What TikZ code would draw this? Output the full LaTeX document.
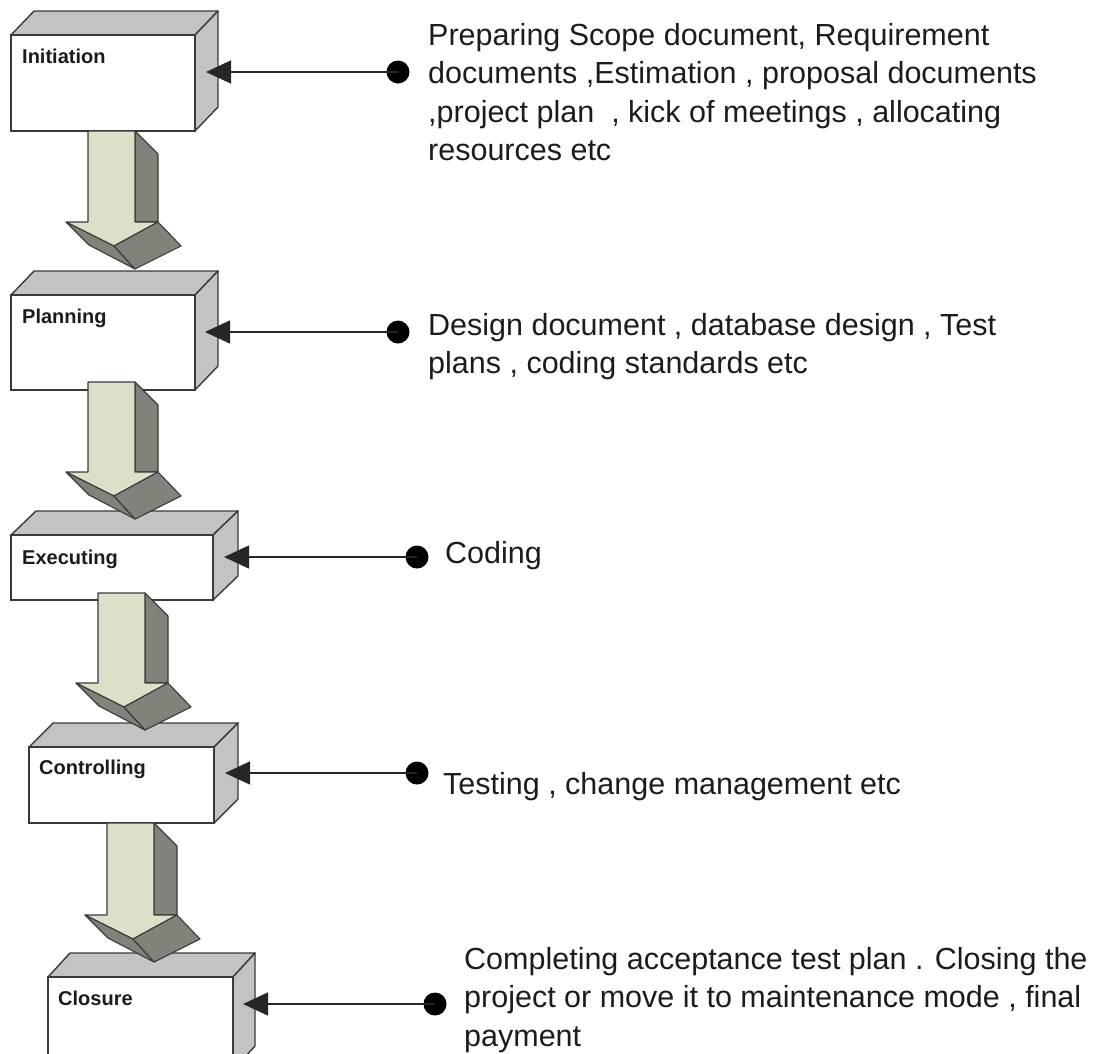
\documentclass[tikz,border=0pt]{standalone}
\usepackage{fontspec}
\setmainfont{Liberation Sans}
\usetikzlibrary{arrows.meta}
\definecolor{facegray}{HTML}{C3C3C3}
\definecolor{edgegray}{HTML}{3A3A3A}
\definecolor{arrowlight}{HTML}{DDE0C9}
\definecolor{arrowdark}{HTML}{80837A}
\definecolor{txtcol}{HTML}{1C1C1C}
\tikzset{
  boxface/.style={fill=facegray, draw=edgegray, line width=1.4pt, line join=round},
  boxfront/.style={fill=white, draw=edgegray, line width=1.4pt},
  arrlight/.style={fill=arrowlight, draw=edgegray, line width=1.1pt, line join=round},
  arrdark/.style={fill=arrowdark, draw=edgegray, line width=1.1pt, line join=round},
  phaselabel/.style={anchor=base west, inner sep=0pt, font=\fontsize{20}{24}\selectfont\bfseries, text=txtcol},
  note/.style={anchor=base west, inner sep=0pt, text=txtcol, font=\fontsize{30.5}{38.5}\selectfont},
  dot/.style={circle, fill=black, inner sep=0pt, minimum size=23pt},
  conn/.style={draw=black!85, line width=1.4pt, -{Triangle[length=25pt,width=23pt]}, shorten >=-1pt}
}
% cuboid: front left x, top y, right x, bottom y, depth x
\newcommand\cuboid[5]{%
  \path[boxface] (#1,#2) -- (#1+#5,#2-24) -- (#3+#5,#2-24) -- (#3,#2) -- cycle;
  \path[boxface] (#3,#2) -- (#3+#5,#2-24) -- (#3+#5,#4-24) -- (#3,#4) -- cycle;
  \path[boxfront] (#1,#2) rectangle (#3,#4);
}
% flow arrow: shaft left x, shaft top y, head y
\newcommand\flowarrow[3]{%
  \path[arrdark] (#1+47,#2) -- (#1+70,#2+23) -- (#1+70,#3) -- (#1+47,#3) -- cycle;
  \path[arrlight] (#1,#2) -- (#1+47,#2) -- (#1+47,#3) -- (#1+70,#3) -- (#1+26,#3+24) -- (#1-22,#3) -- (#1,#3) -- cycle;
  \path[arrdark] (#1-22,#3) -- (#1+26,#3+24) -- (#1+47,#3+47) -- (#1+1,#3+23) -- cycle;
  \path[arrdark] (#1+26,#3+24) -- (#1+70,#3) -- (#1+93,#3+24) -- (#1+47,#3+47) -- cycle;
}
\newcommand\notetext[1]{\begin{tabular}[t]{@{}l@{}}#1\end{tabular}}
\begin{document}
\begin{tikzpicture}[x=1pt,y=-1pt]
\useasboundingbox (0,0) rectangle (1094,1053);
\clip (0,0) rectangle (1094,1053);
% boxes
\cuboid{11}{35}{195}{131}{23}
\cuboid{11}{295}{195}{390}{23}
\cuboid{11}{535}{213}{600}{25}
\cuboid{29}{747}{214}{823}{24}
\cuboid{48}{977}{233}{1070}{22}
% labels
\node[phaselabel] (initiation) at (22,63) {Initiation};
\node[phaselabel] (planning) at (22,323) {Planning};
\node[phaselabel] (executing) at (22,564) {Executing};
\node[phaselabel] (controlling) at (39,774) {Controlling};
\node[phaselabel] (closure) at (58,1005) {Closure};
% flow arrows
\flowarrow{88}{131}{222}
\flowarrow{88}{382}{472}
\flowarrow{98}{593}{683}
\flowarrow{107}{823}{915}
% connector ends on box sides
\coordinate (in1) at (207,72);
\coordinate (in2) at (206,332);
\coordinate (in3) at (225,557);
\coordinate (in4) at (226,773);
\coordinate (in5) at (244,1004);
% dots
\node[dot] (d1) at (398,72) {};
\node[dot] (d2) at (398,332) {};
\node[dot] (d3) at (417,557) {};
\node[dot] (d4) at (417,773) {};
\node[dot] (d5) at (435,1004) {};
\draw[conn] (d1.center) -- (in1);
\draw[conn] (d2.center) -- (in2);
\draw[conn] (d3.center) -- (in3);
\draw[conn] (d4.center) -- (in4);
\draw[conn] (d5.center) -- (in5);
% notes
\node[note] (n1) at (428,45) {\notetext{Preparing Scope document, Requirement\\documents ,Estimation , proposal documents\\,project plan\ \ , kick of meetings , allocating\\resources etc}};
\node[note] (n2) at (428,335) {\notetext{Design document , database design , Test\\plans , coding standards etc}};
\node[note] (n3) at (445,563) {\notetext{Coding}};
\node[note] (n4) at (443,794) {\notetext{Testing , change management etc}};
\node[note] (n5) at (464,969) {\notetext{Completing acceptance test plan . Closing the\\project or move it to maintenance mode , final\\payment}};
\end{tikzpicture}
\end{document}
